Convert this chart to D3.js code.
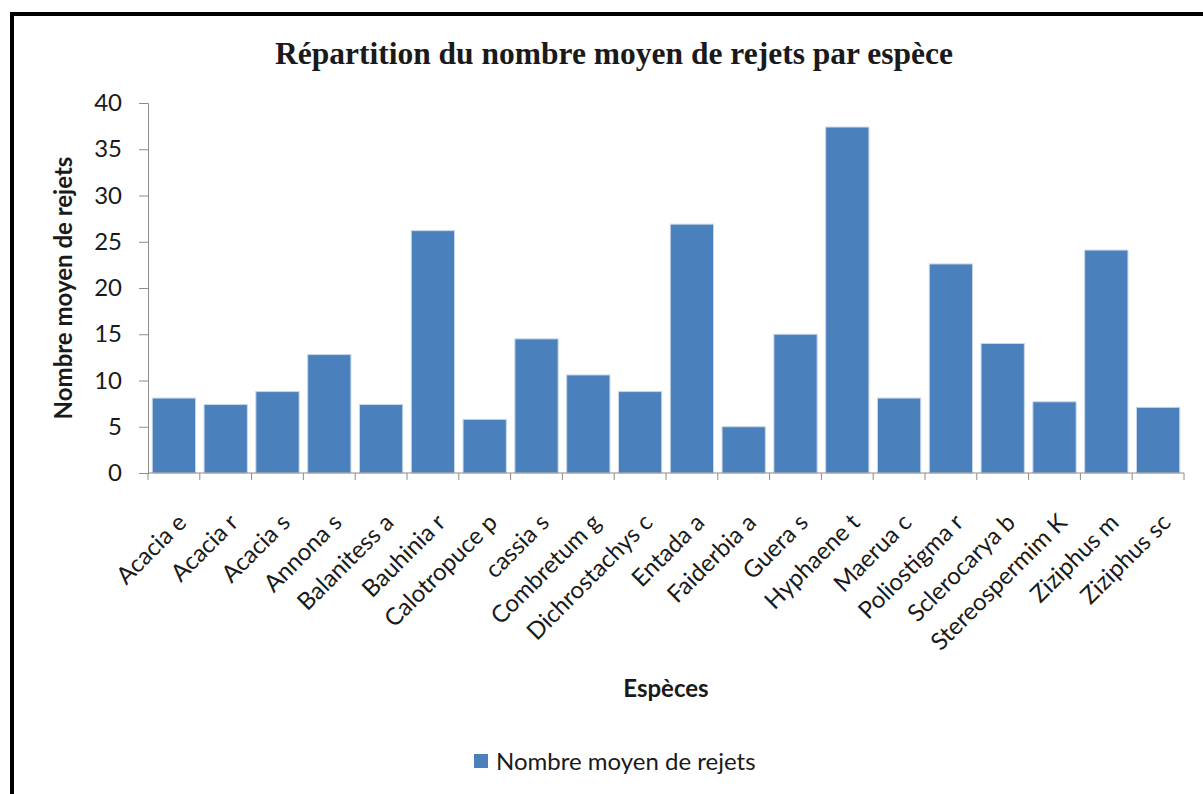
<!DOCTYPE html>
<html>
<head>
<meta charset="utf-8">
<script src="https://cdn.jsdelivr.net/npm/d3@7"></script>
<style>
  body { margin: 0; background: #fff; }
  text { font-family: Lato, "Open Sans", sans-serif; fill: #1a1a1a; }
</style>
</head>
<body>
<div id="chart"></div>
<script>
var species = ['Acacia e', 'Acacia r', 'Acacia s', 'Annona s', 'Balanitess a', 'Bauhinia r',
  'Calotropuce p', 'cassia s', 'Combretum g', 'Dichrostachys c', 'Entada a', 'Faiderbia a',
  'Guera s', 'Hyphaene t', 'Maerua c', 'Poliostigma r', 'Sclerocarya b', 'Stereospermim K',
  'Ziziphus m', 'Ziziphus sc'];
var rejets = [8.1, 7.4, 8.8, 12.8, 7.4, 26.2, 5.8, 14.5, 10.6, 8.8, 26.9, 5.0,
  15.0, 37.4, 8.1, 22.6, 14.0, 7.7, 24.1, 7.1];
var yTicks = [0, 5, 10, 15, 20, 25, 30, 35, 40];

var width = 1203, height = 794;
var svg = d3.select('#chart').append('svg')
  .attr('width', width).attr('height', height);

// frame
svg.append('rect')
  .attr('x', 12).attr('y', 14)
  .attr('width', 1400).attr('height', 900)
  .attr('fill', 'none')
  .attr('stroke', '#000')
  .attr('stroke-width', 4);

var plotLeft = 148, plotRight = 1184, plotTop = 103, plotBottom = 473;
var fs = '24px';

var x = d3.scaleBand()
  .domain(species)
  .range([plotLeft, plotRight])
  .paddingInner(0.165)
  .paddingOuter(0.0825);

var y = d3.scaleLinear()
  .domain([0, 40])
  .range([plotBottom, plotTop]);

// bars
svg.selectAll('.bar')
  .data(species)
  .enter()
  .append('rect')
  .attr('class', 'bar')
  .attr('x', function(d) { return x(d); })
  .attr('width', x.bandwidth())
  .attr('y', function(d, i) { return y(rejets[i]); })
  .attr('height', function(d, i) { return plotBottom - y(rejets[i]); })
  .attr('fill', '#4a80bb')
  .attr('stroke', '#c8d6ea')
  .attr('stroke-width', 1);

// y axis
var yAxis = svg.append('g')
  .attr('transform', 'translate(' + plotLeft + ',0)')
  .call(d3.axisLeft(y).tickValues(yTicks).tickSize(9).tickPadding(17));
yAxis.selectAll('path, line').attr('stroke', '#8c8c8c');
yAxis.selectAll('text')
  .style('font-size', fs)
  .style('font-family', 'Lato, "Open Sans", sans-serif')
  .attr('fill', '#1a1a1a');

// x axis: ticks on band boundaries
var n = species.length;
var bounds = d3.range(n + 1).map(function(i) { return plotLeft + i * (plotRight - plotLeft) / n; });
svg.append('line')
  .attr('x1', plotLeft).attr('x2', plotRight)
  .attr('y1', plotBottom).attr('y2', plotBottom)
  .attr('stroke', '#8c8c8c');
svg.selectAll('.xtick')
  .data(bounds)
  .enter()
  .append('line')
  .attr('x1', function(d) { return d; })
  .attr('x2', function(d) { return d; })
  .attr('y1', plotBottom).attr('y2', plotBottom + 7)
  .attr('stroke', '#8c8c8c');

// x labels
svg.selectAll('.xlabel')
  .data(species)
  .enter()
  .append('text')
  .attr('class', 'xlabel')
  .attr('text-anchor', 'end')
  .attr('transform', function(d) {
    return 'translate(' + (x(d) + x.bandwidth() / 2 + 14) + ',' + (plotBottom + 51) + ') rotate(-45)';
  })
  .style('font-size', fs)
  .text(function(d) { return d; });

// title
svg.append('text')
  .attr('x', 614).attr('y', 64)
  .attr('text-anchor', 'middle')
  .style('font-family', '"Liberation Serif", "DejaVu Serif", serif')
  .style('font-weight', 'bold')
  .style('font-size', '31.5px')
  .attr('fill', '#000')
  .text('Répartition du nombre moyen de rejets par espèce');

// axis titles
svg.append('text')
  .attr('transform', 'translate(72,288) rotate(-90)')
  .attr('text-anchor', 'middle')
  .style('font-weight', 'bold')
  .style('font-size', fs)
  .attr('fill', '#000')
  .text('Nombre moyen de rejets');

svg.append('text')
  .attr('x', 666).attr('y', 697)
  .attr('text-anchor', 'middle')
  .style('font-weight', 'bold')
  .style('font-size', fs)
  .attr('fill', '#000')
  .text('Espèces');

// legend
var legend = svg.append('g').attr('transform', 'translate(474,754)');
legend.append('rect')
  .attr('width', 14).attr('height', 14)
  .attr('fill', '#4a80bb');
legend.append('text')
  .attr('x', 22).attr('y', 16)
  .style('font-size', fs)
  .text('Nombre moyen de rejets');
</script>
</body>
</html>
